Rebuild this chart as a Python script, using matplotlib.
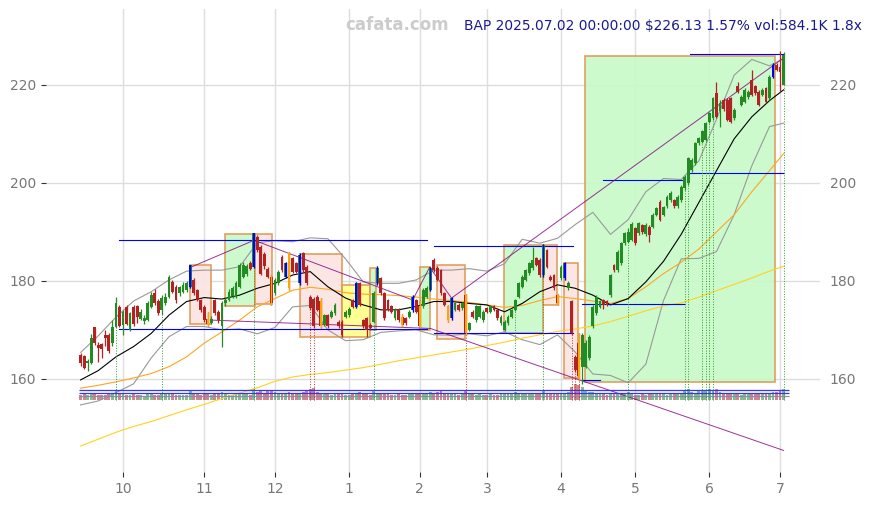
import numpy as np
import pandas as pd
from matplotlib import pyplot as plt
from matplotlib.patches import Rectangle

holidays = ['2024-11-28', '2024-12-25', '2025-01-01', '2025-01-09', '2025-01-20',
            '2025-02-17', '2025-04-18', '2025-05-26', '2025-06-19']
days = pd.bdate_range('2024-09-13', '2025-07-02')
days = days[~days.isin(pd.to_datetime(holidays))]

opens = [164.9, 164.7, 163.2, 163.2, 170.5, 167.0, 167.1, 169.0, 169.0, 167.3,
         170.6, 174.7, 171.0, 174.7, 170.0, 174.6, 174.8, 172.3, 171.8, 172.0,
         174.7, 177.6, 175.8, 174.0, 175.4, 176.8, 179.8, 178.8, 177.5, 177.8,
         178.2, 178.8, 180.2, 178.1, 176.1, 174.7, 172.3, 171.5, 176.1, 173.7,
         170.7, 175.4, 176.1, 177.0, 176.8, 178.8, 180.9, 181.5, 183.6, 182.9,
         189.0, 187.0, 185.5, 182.5, 180.9, 177.5, 179.5, 184.9, 180.9, 185.6,
         184.6, 183.6, 179.5, 185.6, 182.9, 176.8, 176.4, 176.8, 175.8, 171.0,
         173.0, 172.7, 173.4, 171.7, 171.7, 172.7, 173.0, 176.1, 174.7, 179.5,
         172.0, 172.4, 171.0, 171.7, 179.5, 180.5, 177.5, 176.1, 174.8, 172.4,
         174.1, 172.7, 172.4, 172.7, 174.0, 176.1, 174.8, 174.8, 176.8, 178.2,
         184.3, 182.6, 182.2, 177.5, 174.8, 172.4, 174.1, 175.1, 174.4, 177.1,
         170.0, 173.7, 172.0, 172.7, 172.0, 174.4, 173.7, 174.8, 174.1, 171.4,
         170.0, 171.4, 172.7, 174.1, 176.8, 178.8, 180.2, 181.6, 182.6, 184.6,
         184.3, 181.2, 186.3, 180.9, 181.2, 177.1, 180.5, 180.5, 178.5, 175.8,
         164.5, 167.3, 162.5, 162.5, 164.2, 170.7, 173.4, 174.7, 176.1, 175.8,
         177.1, 183.2, 182.2, 183.6, 187.7, 188.0, 188.4, 190.8, 189.7, 191.4,
         189.5, 191.1, 191.1, 193.5, 196.2, 193.5, 195.2, 196.5, 196.5, 195.2,
         196.5, 198.9, 199.9, 202.6, 204.0, 208.1, 208.4, 208.8, 212.5, 213.2,
         218.3, 214.6, 217.0, 217.0, 217.3, 213.2, 219.7, 215.9, 216.6, 217.5,
         221.0, 219.7, 218.6, 218.0, 219.3, 217.3, 221.7, 224.1, 223.7, 220.0]
highs = [165.3, 164.9, 164.0, 169.2, 170.6, 167.6, 167.3, 170.0, 169.3, 172.0,
         176.7, 175.0, 174.0, 175.0, 173.6, 175.0, 175.0, 174.3, 173.0, 176.0,
         177.8, 178.3, 176.3, 177.2, 177.5, 181.2, 180.1, 179.2, 179.0, 179.8,
         180.0, 183.3, 180.5, 178.4, 176.4, 175.0, 173.6, 172.8, 176.4, 174.0,
         175.8, 176.6, 178.3, 179.0, 180.0, 183.6, 183.8, 183.5, 184.0, 189.8,
         189.4, 187.3, 185.9, 182.9, 181.2, 180.5, 182.3, 185.2, 183.9, 185.9,
         184.9, 183.9, 185.6, 186.0, 183.2, 177.1, 176.7, 177.1, 176.6, 173.3,
         173.3, 174.0, 175.4, 172.0, 172.0, 174.0, 174.6, 176.4, 179.8, 179.8,
         172.3, 172.7, 171.4, 178.0, 183.0, 180.8, 177.8, 176.4, 175.1, 174.4,
         174.4, 173.2, 172.7, 174.0, 177.1, 176.4, 176.1, 178.5, 179.0, 182.9,
         184.6, 183.0, 182.5, 177.8, 175.1, 176.8, 175.7, 175.4, 175.7, 177.4,
         171.7, 174.0, 175.1, 175.1, 174.0, 174.7, 175.1, 175.1, 174.4, 173.0,
         172.0, 173.0, 174.3, 176.4, 179.8, 181.2, 182.5, 183.9, 187.0, 184.9,
         184.6, 187.6, 186.6, 181.2, 181.5, 177.4, 183.2, 183.9, 180.0, 176.1,
         164.8, 169.3, 169.3, 168.0, 168.9, 175.0, 177.1, 176.1, 176.4, 176.1,
         181.5, 183.5, 186.3, 188.0, 190.0, 190.8, 192.0, 191.1, 192.1, 191.7,
         191.8, 191.4, 193.8, 195.1, 196.5, 195.3, 197.5, 198.3, 196.8, 197.5,
         199.5, 201.6, 205.3, 205.0, 208.4, 209.4, 210.8, 212.5, 214.5, 217.6,
         220.7, 217.0, 217.3, 217.3, 217.6, 215.2, 220.7, 217.9, 219.3, 219.0,
         223.0, 220.0, 218.9, 219.3, 219.6, 222.0, 224.4, 224.5, 227.0, 226.8]
lows = [162.6, 162.0, 161.7, 163.0, 167.0, 163.5, 164.3, 166.7, 165.2, 166.8,
        170.3, 170.5, 169.0, 171.0, 169.8, 170.8, 171.5, 172.0, 171.3, 171.8,
        174.5, 175.0, 173.0, 173.0, 175.0, 176.5, 177.5, 175.5, 177.0, 177.5,
        177.8, 178.5, 177.2, 175.8, 173.7, 171.6, 170.8, 171.2, 173.0, 171.5,
        166.6, 174.8, 175.8, 176.6, 176.5, 178.5, 180.5, 181.0, 182.2, 182.6,
        186.0, 181.2, 182.5, 180.5, 175.0, 177.2, 179.2, 181.9, 180.6, 178.2,
        181.6, 181.6, 179.2, 181.9, 179.2, 174.0, 170.4, 173.8, 170.4, 170.7,
        170.4, 172.4, 173.1, 170.4, 168.6, 172.4, 172.7, 174.4, 174.4, 174.8,
        170.4, 168.5, 170.0, 171.4, 179.2, 177.2, 172.1, 173.8, 173.4, 172.1,
        171.7, 170.6, 171.1, 172.4, 173.7, 173.4, 170.4, 174.5, 176.5, 177.9,
        181.9, 179.9, 177.2, 174.8, 171.7, 172.1, 173.8, 173.8, 174.1, 169.0,
        169.7, 172.4, 171.7, 172.4, 171.7, 173.4, 173.4, 173.8, 172.1, 171.1,
        169.7, 171.1, 172.4, 173.8, 176.5, 178.5, 179.9, 181.3, 182.3, 183.0,
        180.9, 180.9, 182.6, 179.9, 178.2, 175.1, 180.2, 180.2, 178.2, 169.0,
        161.5, 159.8, 159.0, 162.2, 163.9, 170.4, 173.1, 174.4, 174.2, 174.8,
        176.8, 181.9, 181.9, 183.3, 187.4, 187.7, 188.1, 187.4, 189.4, 189.6,
        189.2, 188.0, 190.8, 193.2, 192.2, 193.2, 194.9, 196.2, 194.9, 194.9,
        196.2, 198.6, 199.6, 202.3, 203.7, 207.8, 208.1, 208.5, 212.2, 212.9,
        213.2, 211.5, 214.7, 212.6, 212.2, 212.9, 218.3, 215.6, 216.3, 217.2,
        217.7, 218.0, 215.6, 217.7, 216.3, 217.0, 221.4, 222.8, 218.6, 220.0]
closes = [163.2, 162.2, 163.7, 168.3, 167.3, 166.4, 166.1, 168.4, 165.7, 170.6,
          175.5, 170.8, 173.7, 171.2, 173.4, 171.2, 172.7, 173.7, 172.5, 175.5,
          177.1, 175.4, 173.4, 176.5, 176.8, 180.7, 177.8, 176.1, 178.7, 179.2,
          179.5, 183.2, 177.5, 176.1, 174.1, 172.0, 171.3, 172.3, 173.4, 172.0,
          175.4, 176.1, 177.8, 178.5, 179.5, 183.2, 183.2, 183.0, 182.5, 189.7,
          186.3, 181.5, 183.0, 180.9, 175.4, 180.2, 181.9, 182.2, 183.6, 178.5,
          181.9, 181.9, 185.3, 182.2, 179.5, 174.4, 170.7, 174.1, 170.7, 173.0,
          170.7, 173.7, 175.1, 170.7, 169.0, 173.7, 174.2, 174.7, 179.5, 175.1,
          170.7, 170.0, 170.4, 177.5, 182.6, 177.5, 172.4, 174.1, 173.7, 174.1,
          172.0, 171.0, 171.4, 173.7, 176.8, 173.7, 170.7, 178.2, 178.5, 182.6,
          182.2, 180.2, 177.5, 175.1, 172.0, 176.5, 175.4, 174.1, 175.4, 169.3,
          171.4, 172.7, 174.8, 174.8, 173.7, 173.7, 174.8, 174.1, 172.4, 172.7,
          171.7, 172.7, 174.0, 176.1, 179.5, 180.9, 182.2, 183.6, 184.3, 183.3,
          181.2, 187.3, 182.9, 180.2, 178.5, 175.4, 182.9, 183.6, 179.5, 169.3,
          161.8, 160.5, 169.0, 167.3, 168.6, 174.7, 176.8, 175.8, 175.1, 175.1,
          181.2, 182.2, 186.0, 187.7, 189.7, 190.0, 191.7, 187.7, 191.8, 189.9,
          191.5, 189.4, 193.5, 194.8, 192.5, 195.0, 197.2, 198.0, 195.2, 197.2,
          199.2, 201.3, 205.0, 204.7, 208.1, 209.1, 210.5, 212.2, 214.2, 217.3,
          213.5, 216.3, 215.0, 212.9, 212.5, 214.9, 218.6, 217.6, 219.0, 218.6,
          218.0, 218.3, 215.9, 219.0, 216.6, 221.7, 224.1, 223.0, 222.6, 226.1]
volumes = [280, 320, 250, 380, 300, 260, 240, 270, 310, 290,
           520, 330, 300, 280, 260, 300, 250, 240, 230, 300,
           320, 280, 260, 350, 300, 380, 300, 280, 260, 250,
           280, 450, 330, 300, 280, 320, 300, 250, 330, 300,
           420, 300, 280, 260, 300, 380, 350, 300, 280, 560,
           420, 480, 360, 500, 450, 400, 320, 380, 350, 420,
           330, 300, 380, 420, 450, 600, 640, 420, 380, 330,
           300, 280, 300, 320, 350, 280, 260, 300, 380, 400,
           330, 300, 280, 450, 380, 350, 320, 300, 280, 260,
           300, 280, 260, 300, 330, 300, 380, 320, 300, 400,
           380, 420, 450, 360, 330, 350, 300, 280, 300, 480,
           350, 300, 280, 300, 260, 280, 300, 260, 280, 300,
           320, 300, 330, 400, 380, 360, 330, 300, 320, 380,
           350, 450, 380, 320, 300, 330, 360, 380, 420, 700,
           850, 780, 680, 520, 400, 420, 380, 330, 300, 280,
           350, 300, 320, 330, 300, 420, 300, 280, 260, 300,
           280, 300, 320, 300, 350, 300, 280, 300, 330, 300,
           320, 450, 550, 420, 380, 500, 520, 480, 560, 450,
           600, 400, 350, 330, 380, 300, 320, 280, 300, 330,
           350, 300, 320, 300, 330, 380, 420, 400, 450, 584]
blue_bars = [31, 49, 58, 62, 78, 84, 94, 99, 105, 131, 137, 196]
orange_bars = [36, 54, 59, 68, 91, 96, 104, 109, 135, 141]

ma_idx = list(range(0, 200, 5)) + [199]
ma_20 = [159.8, 161.7, 164.5, 166.6, 169.3, 173.0, 175.8, 176.6, 176.3, 177.1,
         178.5, 179.5, 181.2, 181.9, 178.8, 176.5, 175.1, 174.1, 174.1, 174.8,
         175.8, 175.8, 175.4, 175.1, 173.7, 175.4, 177.8, 179.2, 178.5, 177.1,
         175.1, 176.4, 179.8, 184.0, 189.5, 196.0, 202.5, 209.0, 213.5, 216.8, 219.0]
ma_50 = [158.1, 158.7, 159.4, 160.2, 161.1, 162.5, 164.5, 167.3, 169.6, 172.0,
         174.7, 176.4, 178.1, 178.7, 178.3, 177.6, 177.3, 177.2, 177.0, 176.7,
         176.3, 176.0, 175.6, 175.1, 174.6, 175.0, 176.0, 176.8, 176.4, 175.9,
         175.4, 176.4, 178.8, 181.5, 183.8, 186.5, 190.0, 193.5, 198.2, 202.5, 206.0]
ma_200 = [146.3, 147.7, 149.1, 150.3, 151.3, 152.5, 153.7, 154.8, 156.0, 157.1,
          158.2, 159.5, 160.4, 160.9, 161.3, 161.8, 162.3, 163.0, 163.7, 164.3,
          164.9, 165.5, 166.1, 166.8, 167.5, 168.3, 169.0, 169.7, 170.2, 170.8,
          171.7, 172.8, 173.9, 174.9, 175.5, 176.7, 178.0, 179.3, 180.6, 182.0, 183.0]
bb_upper = [165.4, 168.8, 172.6, 175.9, 177.8, 180.2, 182.0, 182.2, 182.2, 182.9,
            187.8, 188.2, 188.0, 188.8, 188.6, 184.5, 179.8, 179.5, 179.5, 180.2,
            182.2, 182.2, 182.5, 182.0, 183.5, 188.5, 187.7, 188.7, 191.5, 194.0,
            189.5, 192.5, 198.2, 200.9, 200.7, 204.5, 213.0, 222.0, 225.2, 223.9, 225.4]
bb_lower = [154.7, 155.5, 157.2, 159.0, 164.3, 168.6, 170.7, 170.7, 170.0, 170.2,
            169.2, 170.5, 174.7, 175.0, 170.0, 167.8, 168.0, 169.5, 169.8, 170.0,
            169.0, 168.9, 169.2, 168.8, 169.6, 168.0, 167.0, 169.0, 165.5, 161.0,
            160.7, 159.2, 163.0, 176.0, 184.5, 184.6, 186.0, 193.5, 203.5, 211.5, 212.2]

# boxes: (start idx, end idx, low, high, kind)
boxes = [(31.1, 37.0, 171.2, 183.3, 'pink'), (41.0, 49.3, 174.8, 189.5, 'green'),
         (49.3, 54.2, 175.2, 189.5, 'pink'), (62.2, 74.0, 168.6, 185.4, 'pink'),
         (74.0, 81.8, 168.6, 179.2, 'yellow'), (81.8, 83.7, 170.0, 182.7, 'green'),
         (96.2, 98.8, 170.0, 182.9, 'green'), (100.9, 108.7, 168.1, 183.3, 'pink'),
         (119.8, 130.9, 169.3, 187.3, 'green'), (130.9, 134.9, 175.1, 187.3, 'pink'),
         (136.8, 140.8, 160.1, 183.6, 'pink'), (142.7, 196.5, 159.3, 225.9, 'green')]
levels = [(11, 98, 188.3), (11, 98, 170.1), (100, 139.5, 187.1), (100, 139.5, 169.3),
          (142, 171, 175.2), (142, 147, 159.7), (148, 171, 200.6),
          (172.5, 199, 202.0), (172.5, 199, 226.3)]
trend_a = ([31.2, 49.1], [182.8, 188.3])
trend_b = ([49.1, 94, 98.8, 105, 199], [188.3, 176.1, 182.8, 176.5, 225.5])
trend_c = ([37, 99, 199], [172.0, 170.3, 145.4])
signal_up = [10, 23, 49, 83, 123, 131, 155, 171, 172, 176, 177, 178, 179, 199]
signal_down = [65, 66, 109, 139, 140, 141]

GREEN = '#228b22'
RED = '#b22222'
fills = {'pink': '#fbe4e0', 'green': '#c8fac8', 'yellow': '#ffff88'}


def draw_candles(ax):
    x = np.arange(len(closes))
    o, h, l, c = map(np.array, (opens, highs, lows, closes))
    cols = np.where(c >= o, GREEN, RED).astype(object)
    bottom = np.minimum(o, c)
    height = np.maximum(np.abs(c - o), 0.15)
    ax.vlines(x, l, h, colors=cols, lw=0.9, zorder=4)
    ax.bar(x, height, bottom=bottom, width=0.8, color=cols, zorder=4)
    for idx, col in [(blue_bars, 'blue'), (orange_bars, 'orange')]:
        ax.vlines(x[idx], l[idx], h[idx], colors=col, lw=0.9, zorder=5)
        ax.bar(x[idx], height[idx], bottom=bottom[idx], width=0.45, color=col, zorder=5)

    vol = np.array(volumes) * 0.0039
    ax.bar(x, vol, bottom=155.7, width=0.8, color=cols, alpha=0.55, zorder=2)
    ax.hlines([157.75, 157.15, 156.6], -0.5, 200.5,
              colors=['#3333ff', '#3333ff', '#8888bb'], lw=0.9, zorder=3)

    for idx, col in [(signal_up, '#2e9e2e'), (signal_down, '#c03030')]:
        ax.vlines(x[idx], 155.7, l[idx], colors=col, lw=0.7, linestyles=':', zorder=3)


def draw_overlays(ax):
    for x0, x1, y0, y1, kind in boxes:
        ax.add_patch(Rectangle((x0, y0), x1 - x0, y1 - y0, facecolor=fills[kind],
                               edgecolor='#e09550', lw=1.2, alpha=0.9, zorder=1))
    ax.plot(ma_idx, bb_upper, color='#999999', lw=0.8, zorder=3)
    ax.plot(ma_idx, bb_lower, color='#999999', lw=0.8, zorder=3)
    ax.plot(ma_idx, ma_200, color='#ffd21f', lw=0.8, zorder=3)
    ax.plot(ma_idx, ma_50, color='#ffa520', lw=0.8, zorder=3)
    ax.plot(ma_idx, ma_20, color='black', lw=0.8, zorder=3)
    for x0, x1, y in levels:
        ax.plot([x0, x1], [y, y], color='blue', lw=0.8, zorder=3)
    for tx, ty in (trend_a, trend_b, trend_c):
        ax.plot(tx, ty, color='purple', lw=0.7, alpha=0.8, zorder=3)


fig = plt.figure(figsize=(8.72, 5.05), dpi=100)
ax = fig.add_axes([46 / 872, 33 / 505, 774 / 872, 463 / 505])
draw_overlays(ax)
draw_candles(ax)

month_idx = [i for i in range(1, len(days)) if days[i].month != days[i - 1].month]
ax.set_xticks(month_idx)
ax.set_xticklabels([str(days[i].month) for i in month_idx])
ax.set_yticks([160, 180, 200, 220])
ax.set_xlim(-9.8, 209.3)
ax.set_ylim(141.0, 235.5)
ax.grid(True, color='#dddddd', lw=1.0, zorder=0)
ax.set_axisbelow(True)
for s in ax.spines.values():
    s.set_visible(False)
ax.tick_params(axis='both', labelsize=10, labelcolor='#777777', color='#333333',
               length=3.5, pad=3.5)
ax.tick_params(axis='y', right=False, labelright=True)

fig.text(397 / 872, 1 - 25 / 505, 'cafata.com', ha='center', va='center',
         fontsize=12, fontweight='bold', color='#cccccc')
fig.text(862 / 872, 1 - 26 / 505, 'BAP 2025.07.02 00:00:00 $226.13 1.57% vol:584.1K 1.8x',
         ha='right', va='center', fontsize=9.9, color='#1a1a8c')

plt.savefig('out.png', dpi=100)
